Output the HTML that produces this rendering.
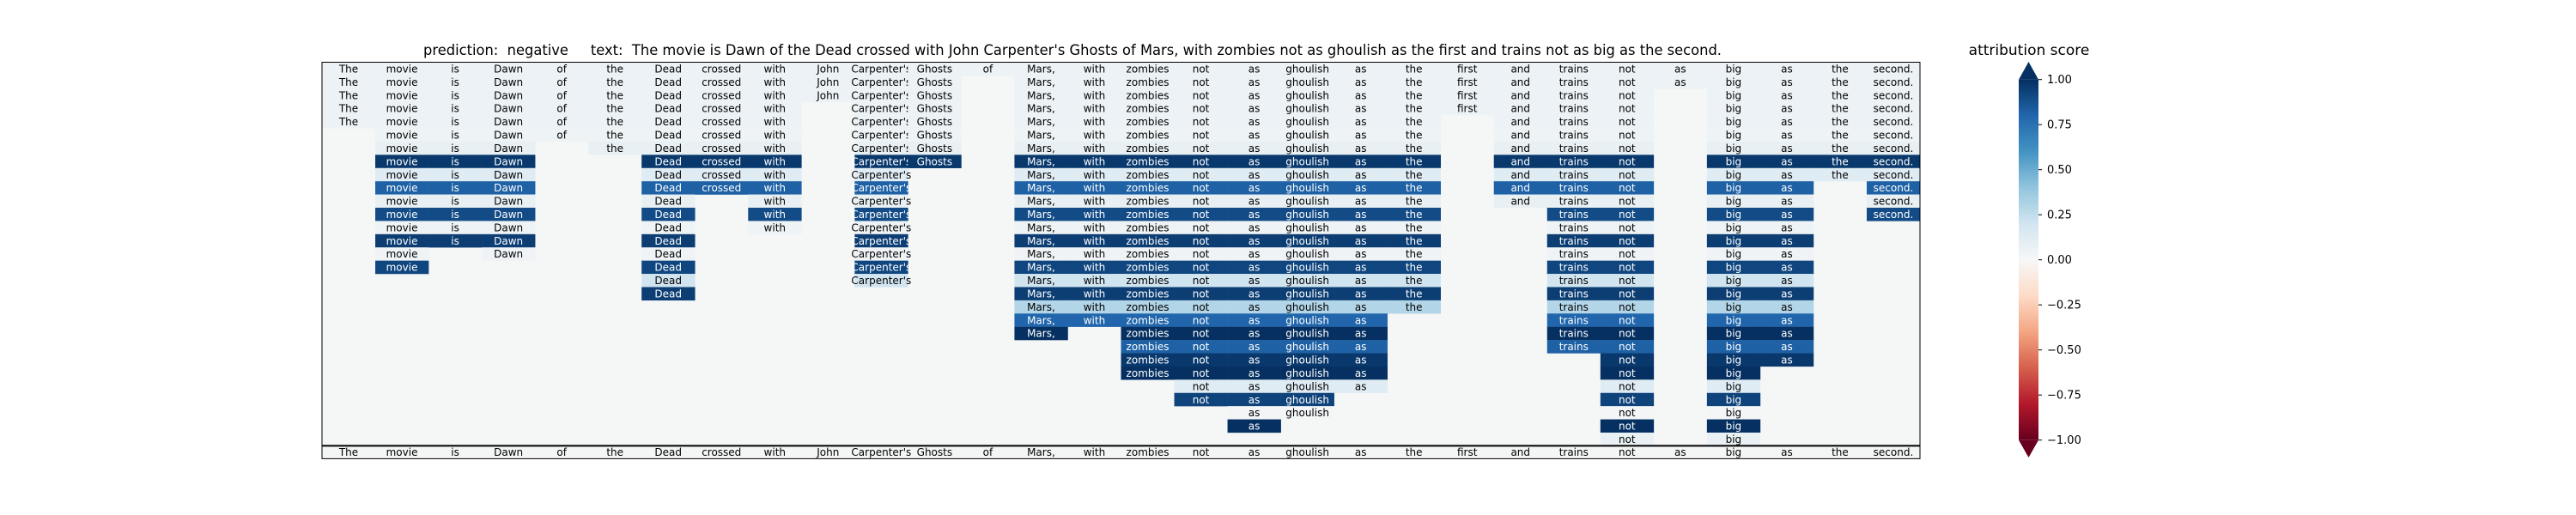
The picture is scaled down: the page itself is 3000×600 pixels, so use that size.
<!DOCTYPE html>
<html><head><meta charset="utf-8"><style>
html,body{margin:0;padding:0;background:#fff;width:3000px;height:600px;overflow:hidden}
svg text{font-family:"DejaVu Sans","Liberation Sans",sans-serif}
</style></head><body>
<svg id="chart" width="3000" height="600" xmlns="http://www.w3.org/2000/svg">
<text x="493" y="64" font-size="17" textLength="1512" lengthAdjust="spacingAndGlyphs" xml:space="preserve" fill="#000">prediction:  negative     text:  The movie is Dawn of the Dead crossed with John Carpenter's Ghosts of Mars, with zombies not as ghoulish as the first and trains not as big as the second.</text>
<g id="heat"></g>
<g id="cbar"></g>
</svg>
<script>
const tokens = ["The","movie","is","Dawn","of","the","Dead","crossed","with","John","Carpenter's","Ghosts","of","Mars,","with","zombies","not","as","ghoulish","as","the","first","and","trains","not","as","big","as","the","second."];
// token index removed at each row (row 1..28)
const removalOrder = [12,25,9,21,0,4,5,11,28,7,22,29,8,2,3,1,10,6,20,14,13,23,27,15,19,16,18,17];
const rowScores = [0.06,0.06,0.06,0.06,0.06,0.05,0.08,0.97,0.12,0.82,0.08,0.9,0.05,0.95,0.04,0.92,0.2,0.95,0.3,0.8,1.0,0.82,0.97,1.0,0.12,0.93,0.02,1.0,0.07];
const cbarTicks = [1.0,0.75,0.5,0.25,0.0,-0.25,-0.5,-0.75,-1.0];
const cbarTickLabels = ["1.00","0.75","0.50","0.25","0.00","\u22120.25","\u22120.50","\u22120.75","\u22121.00"];

const NS="http://www.w3.org/2000/svg";
const X0=375,X1=2236,Y0=72.5,ROWH=15.41;
const nCols=tokens.length,nRows=rowScores.length;
const colW=(X1-X0)/nCols;
const xScale=c=>X0+c*colW;
const yScale=r=>Y0+r*ROWH;
const stops=[[-1,"#67001f"],[-0.8,"#b2182b"],[-0.6,"#d6604d"],[-0.4,"#f4a582"],[-0.2,"#fddbc7"],[0,"#f7f7f7"],[0.2,"#d1e5f0"],[0.4,"#92c5de"],[0.6,"#4393c3"],[0.8,"#2166ac"],[1,"#053061"]];
function hex(h){return [1,3,5].map(i=>parseInt(h.substr(i,2),16));}
function cmap(v){v=Math.max(-1,Math.min(1,v));for(let i=0;i<stops.length-1;i++){if(v<=stops[i+1][0]){const t=(v-stops[i][0])/(stops[i+1][0]-stops[i][0]);const a=hex(stops[i][1]),b=hex(stops[i+1][1]);return "rgb("+a.map((x,k)=>Math.round(x+(b[k]-x)*t)).join(",")+")";}}return stops[10][1];}
function mk(tag,attrs,parent){const e=document.createElementNS(NS,tag);for(const k in attrs)e.setAttribute(k,attrs[k]);parent.appendChild(e);return e;}

const heat=document.getElementById('heat');
const bg=mk('rect',{x:X0,y:Y0,width:X1-X0,height:nRows*ROWH,fill:"#f5f7f7"},heat);


const present=tokens.map(()=>true);
for(let r=0;r<nRows;r++){
  if(r>0)present[removalOrder[r-1]]=false;
  const v=rowScores[r];
  const fill=cmap(v);
  const tc=v>0.5?"#fff":"#000";
  for(let c=0;c<nCols;c++){
    if(!present[c])continue;
    const rc=mk('rect',{x:xScale(c),y:yScale(r),width:colW+0.3,height:ROWH+0.2,fill:fill},heat);
    
    
    const t=mk('text',{x:xScale(c)+colW/2,y:yScale(r)+ROWH/2+4.3,"font-size":12,"text-anchor":"middle",fill:tc},heat);
    
    
    t.textContent=tokens[c];
  }
}
mk('rect',{x:X0,y:Y0,width:X1-X0,height:nRows*ROWH,fill:"none",stroke:"#000","stroke-width":1},heat);
// bottom original sentence strip
const SY=Y0+nRows*ROWH, SH=15;
const strip=mk('rect',{x:X0,y:SY,width:X1-X0,height:SH,fill:"#f4f5f5",stroke:"#000","stroke-width":1},heat);


mk('line',{x1:X0,x2:X1,y1:SY,y2:SY,stroke:"#000","stroke-width":2},heat);
for(let c=0;c<nCols;c++){
  const t=mk('text',{x:xScale(c)+colW/2,y:SY+SH/2+4.3,"font-size":12,"text-anchor":"middle",fill:"#000"},heat);
  
  
  t.textContent=tokens[c];
}
// colorbar
const cb=document.getElementById('cbar');
const CX=2351,CW=23,CT=92.7,CB=512.7;
const cy=v=>CT+(1-v)/2*(CB-CT);
const defs=mk('defs',{},cb);
const lg=mk('linearGradient',{id:"rdbu",x1:0,y1:0,x2:0,y2:1},defs);
for(let i=stops.length-1;i>=0;i--){mk('stop',{offset:((1-stops[i][0])/2),"stop-color":stops[i][1]},lg);}
const cr=mk('rect',{x:CX,y:CT,width:CW,height:CB-CT,fill:"url(#rdbu)"},cb);


const up=mk('polygon',{points:CX+","+CT+" "+(CX+CW/2)+",72 "+(CX+CW)+","+CT,fill:"#053061"},cb);


const dn=mk('polygon',{points:CX+","+CB+" "+(CX+CW/2)+",533 "+(CX+CW)+","+CB,fill:"#67001f"},cb);


cbarTicks.forEach((v,i)=>{
  const y=cy(v);
  mk('line',{x1:CX+CW,x2:CX+CW+4,y1:y,y2:y,stroke:"#000","stroke-width":1},cb);
  const t=mk('text',{x:CX+CW+10,y:y+4.5,"font-size":13,fill:"#000"},cb);
  
  
  t.textContent=cbarTickLabels[i];
});
const ct=mk('text',{x:2363,y:64,"font-size":17,"text-anchor":"middle",fill:"#000"},cb);


ct.textContent="attribution score";
</script>
</body></html>
